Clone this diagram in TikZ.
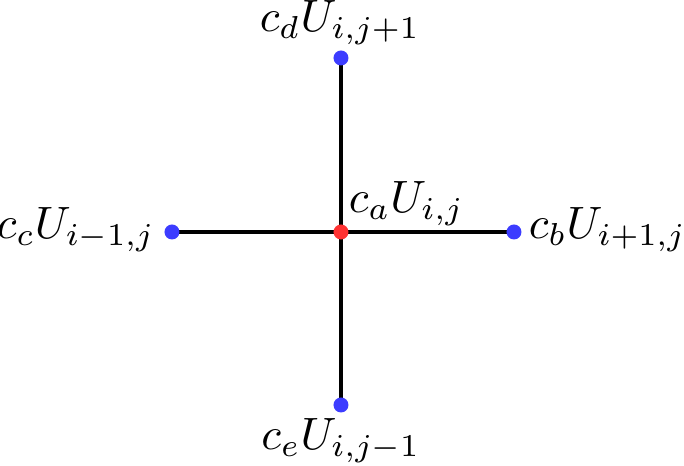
\documentclass[tikz,border=0pt]{standalone}
\definecolor{dotblue}{RGB}{60,60,255}
\definecolor{dotred}{RGB}{255,50,50}
\tikzset{
  pt/.style={circle,inner sep=0pt,minimum size=3pt},
  bluept/.style={pt,fill=dotblue},
  redpt/.style={pt,fill=dotred},
  arm/.style={line width=0.62pt,black},
  lbl/.style={inner sep=0pt,scale=0.907}
}
\begin{document}
\begin{tikzpicture}[x=1pt,y=1pt]
\useasboundingbox (-68.2,-46.8) rectangle (68.6,46.4);
\coordinate (C) at (0,0);
\coordinate (L) at (-33.8,0);
\coordinate (R) at (34.6,0);
\coordinate (T) at (0,34.8);
\coordinate (B) at (0,-34.6);
\draw[arm] (L) -- (R);
\draw[arm] (T) -- (B);
\node[bluept] (l) at (L) {};
\node[bluept] (r) at (R) {};
\node[bluept] (t) at (T) {};
\node[bluept] (b) at (B) {};
\node[redpt] (c) at (C) {};
\node[lbl,anchor=base] (tl) at (-0.2,40) {$c_dU_{i,j+1}$};
\node[lbl,anchor=base] (bl) at (0,-43.6) {$c_eU_{i,j-1}$};
\node[lbl,anchor=base east] (ll) at (-37.0,-1.4) {$c_cU_{i-1,j}$};
\node[lbl,anchor=base west] (rl) at (37.4,-1.4) {$c_bU_{i+1,j}$};
\node[lbl,anchor=base west] (cl) at (1.4,3.8) {$c_aU_{i,j}$};
\end{tikzpicture}
\end{document}
